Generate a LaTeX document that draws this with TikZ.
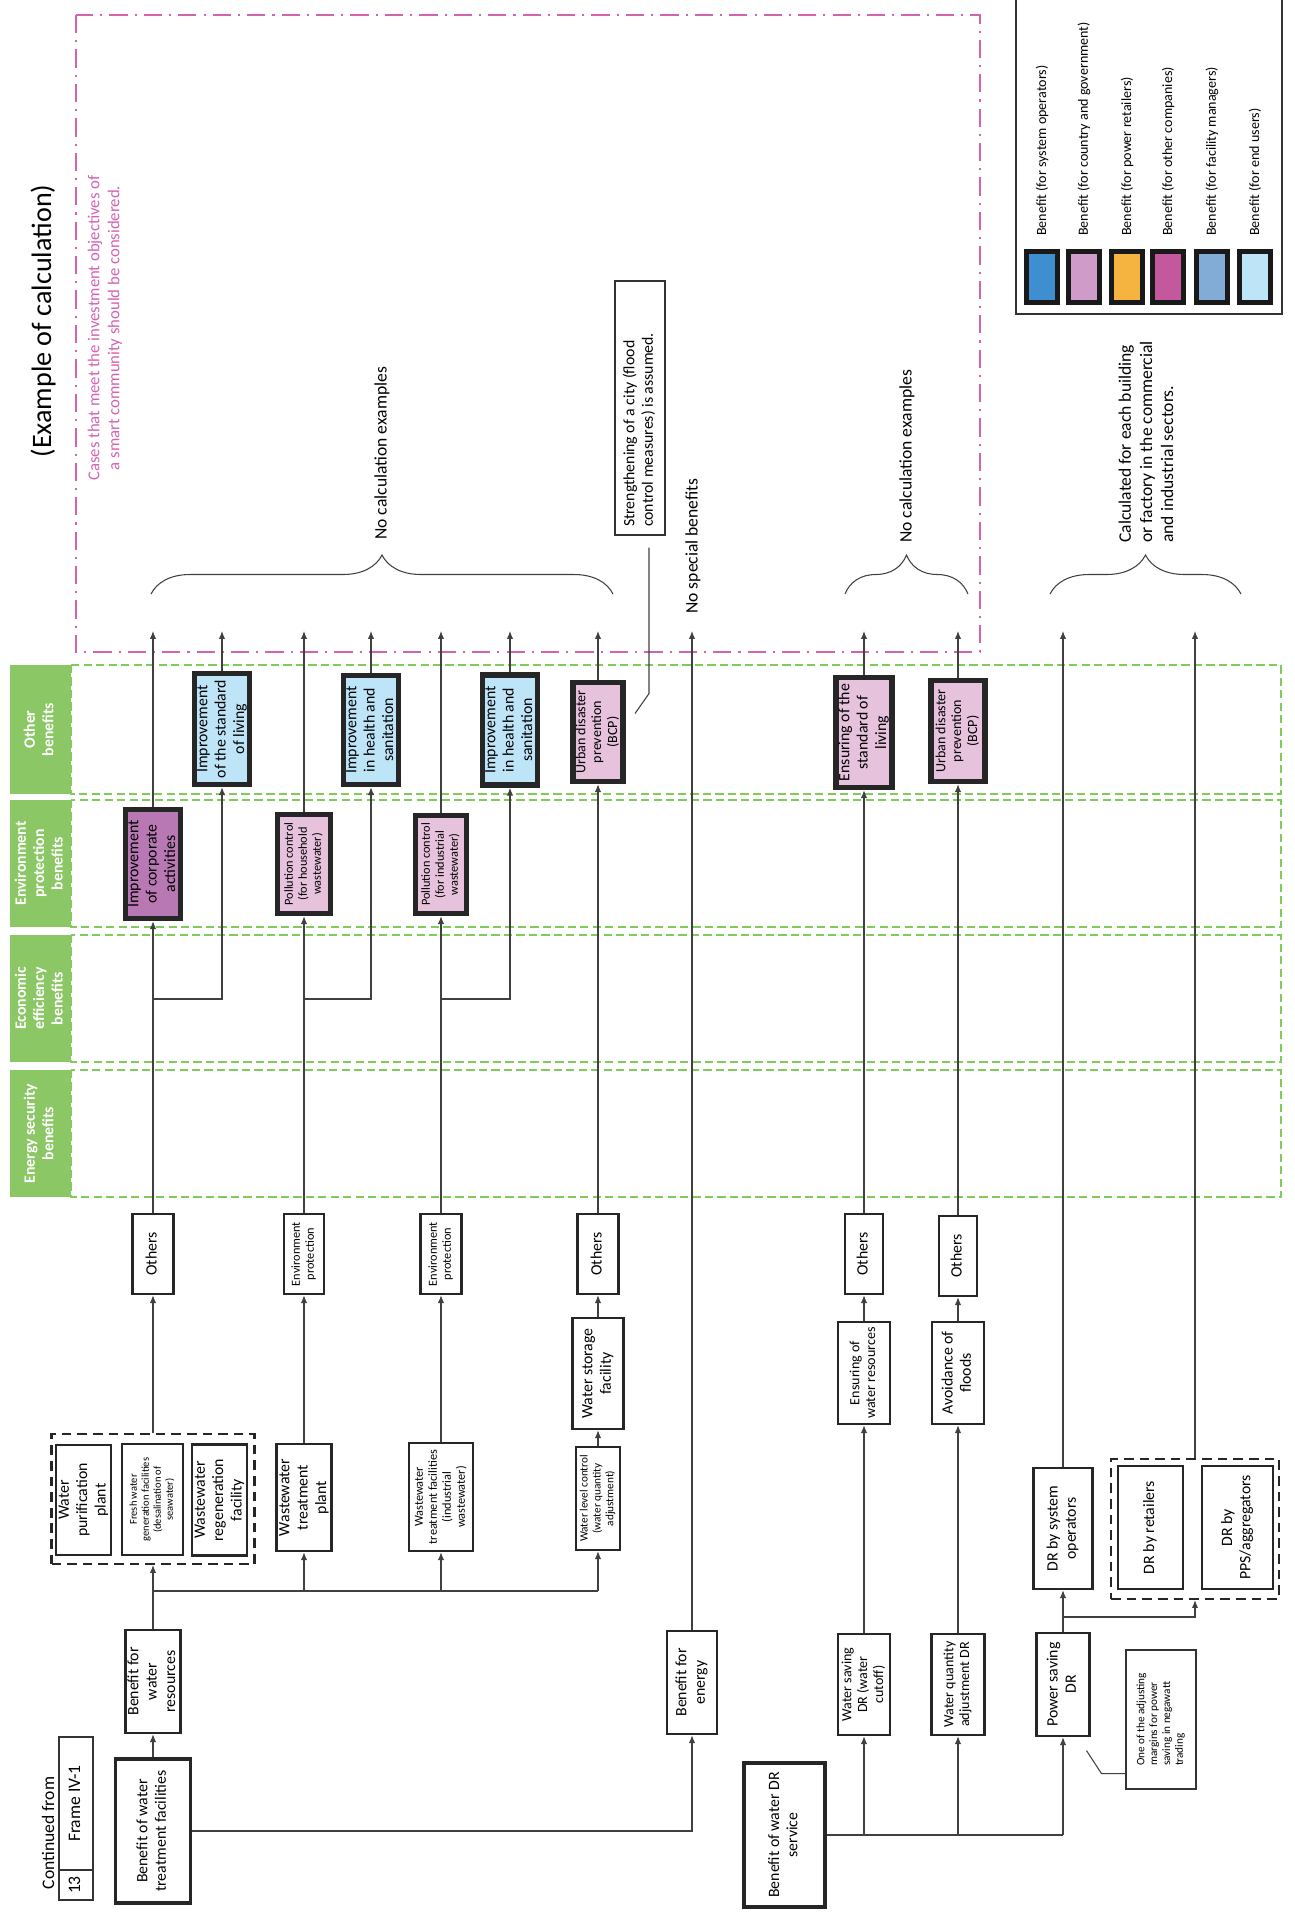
\documentclass[tikz,border=0pt]{standalone}
\usepackage{fontspec}
\setmainfont{Carlito}
\usepackage{graphicx}
\usetikzlibrary{arrows.meta,decorations.pathreplacing}

\definecolor{sysop}{HTML}{3F8ECF}
\definecolor{govt}{HTML}{CF9BC9}
\definecolor{retail}{HTML}{F5B43F}
\definecolor{othco}{HTML}{C4589C}
\definecolor{facil}{HTML}{82ABD6}
\definecolor{enduser}{HTML}{BEE4F7}
\definecolor{pinkbox}{HTML}{E6C2DC}
\definecolor{corpbox}{HTML}{B878B4}
\definecolor{rowgreen}{HTML}{8BC765}
\definecolor{dashgreen}{HTML}{7FCB5B}
\definecolor{casepink}{HTML}{D263B1}

\renewcommand\arraystretch{0.95}
\newcommand\rt[2][\small]{\rotatebox{90}{#1\begin{tabular}{@{}c@{}}#2\end{tabular}}}
\newcommand\fsa{\fontsize{6}{7.2}\selectfont}
\newcommand\fsb{\fontsize{6.4}{7.7}\selectfont}
\newcommand\fsc{\fontsize{7}{8.4}\selectfont}

\begin{document}
\begin{tikzpicture}[x=0.02cm,y=-0.02cm,
  box/.style={draw=black!85,line width=1.3pt,fill=white,inner sep=0pt,align=center},
  bbox/.style={box,line width=2.2pt},
  hbox/.style={box,line width=3pt},
  sz/.style 2 args={minimum width=(#1)*0.02cm,minimum height=(#2)*0.02cm},
  ln/.style={draw=black!75,line width=0.6pt},
  ar/.style={ln,-{Latex[length=4.5pt,width=3.6pt]}},
  grp/.style={draw=black!85,line width=1.2pt,dash pattern=on 5.5pt off 3.4pt,inner sep=0pt},
  thinbox/.style={draw=black!80,line width=0.6pt,fill=white,inner sep=0pt},
  rowband/.style={draw=dashgreen,line width=1pt,dash pattern=on 4.7pt off 2.4pt},
  rowlab/.style={fill=rowgreen,text=white,inner sep=0pt},
  casebox/.style={draw=casepink,line width=1.1pt,dash pattern=on 10.4pt off 4pt on 1.2pt off 4pt},
  brc/.style={ln,decorate,decoration={brace,amplitude=0.78cm}},
  vtext/.style={rotate=90,anchor=west,inner sep=0pt},
  swatch/.style={draw=black!90,line width=2.3pt,inner sep=0pt,sz={31}{51}}]
\useasboundingbox (0,0) rectangle (1295,1921);

% frame of the calculation examples and benefit rows
\draw[casebox] (76,15) rectangle (980,652);
\foreach \ya/\yb/\lab [count=\i] in {665/794/{Other\\benefits},800/927/{Environment\\protection\\benefits},935/1062/{Economic\\efficiency\\benefits},1070/1197/{Energy security\\benefits}}{
  \draw[rowband] (71,\ya) rectangle (1281,\yb);
  \node[rowlab,sz={61}{\yb-\ya}] (row\i) at (40.5,{(\ya+\yb)/2}) {\rt[\small\bfseries]{\lab}};
}

% legend
\draw[thinbox,fill=none] (1016,-10) rectangle (1282,314);
\foreach \x/\c/\t in {1042/sysop/system operators,1084/govt/country and government,1127/retail/power retailers,1168/othco/other companies,1212/facil/facility managers,1255/enduser/end users}{
  \node[swatch,fill=\c] (sw\x) at (\x,277) {};
  \node[vtext,font=\footnotesize] (lg\x) at (\x,236) {Benefit (for \t)};
}

\node[rotate=90,font=\fontsize{16}{19}\selectfont] (title) at (43,321) {(Example of calculation)};
\node[rotate=90,align=center,text=casepink,font=\fontsize{9.5}{11.4}\selectfont] (cases) at (105,328) {Cases that meet the investment objectives of\\a smart community should be considered.};
\node[vtext,font=\normalsize] (nce1) at (382,540) {No calculation examples};
\node[vtext,font=\normalsize] (nsb) at (693,614) {No special benefits};
\node[vtext,font=\normalsize] (nce2) at (907,543) {No calculation examples};
\node[vtext,font=\normalsize,align=left] (calc) at (1146,543) {Calculated for each building\\or factory in the commercial\\and industrial sectors.};
\draw[brc] (151,594) -- (613,594);
\draw[brc] (845,594) -- (968,594);
\draw[brc] (1050,594) -- (1241,594);
\node[thinbox,sz={50}{254}] (sbox) at (640,408) {\rotatebox{90}{\makebox[4.76cm][l]{\small\begin{tabular}{@{}l@{}}Strengthening of a city (flood\\control measures) is assumed.\end{tabular}}}};

% benefits
\node[hbox,fill=corpbox,sz={55}{109}] (ica) at (153,864) {\rt{Improvement\\of corporate\\activities}};
\node[hbox,fill=pinkbox,sz={53}{99}] (pch) at (304,864) {\rt[\fsc]{Pollution control\\(for household\\wastewater)}};
\node[hbox,fill=pinkbox,sz={51}{98}] (pci) at (441,864.5) {\rt[\fsc]{Pollution control\\(for industrial\\wastewater)}};
\node[hbox,fill=enduser,sz={52}{111}] (isl) at (222,729) {\rt{Improvement\\of the standard\\of living}};
\node[hbox,fill=enduser,sz={53}{109}] (ihs1) at (371,730) {\rt{Improvement\\in health and\\sanitation}};
\node[hbox,fill=enduser,sz={54}{110}] (ihs2) at (510,730) {\rt{Improvement\\in health and\\sanitation}};
\node[hbox,fill=pinkbox,sz={50}{99}] (udp1) at (598,732) {\rt[\footnotesize]{Urban disaster\\prevention\\(BCP)}};
\node[hbox,fill=pinkbox,sz={56}{110}] (esl) at (864,732.5) {\rt{Ensuring of the\\standard of\\living}};
\node[hbox,fill=pinkbox,sz={54}{101}] (udp2) at (958,731) {\rt[\footnotesize]{Urban disaster\\prevention\\(BCP)}};

% intermediate boxes
\node[box,sz={41}{80}] (oth1) at (153,1254) {\rt{Others}};
\node[box,sz={40}{80}] (envA) at (304,1254) {\rt[\fsc]{Environment\\protection}};
\node[box,sz={41}{80}] (envB) at (441,1254) {\rt[\fsc]{Environment\\protection}};
\node[box,sz={41}{80}] (oth2) at (598,1254) {\rt{Others}};
\node[box,sz={38}{80}] (oth3) at (864,1254) {\rt{Others}};
\node[box,sz={38}{80}] (oth4) at (958,1256) {\rt{Others}};
\node[box,sz={51}{111}] (wsf) at (598,1373.5) {\rt{Water storage\\facility}};
\node[box,sz={52}{102}] (ewr) at (864,1373) {\rt[\footnotesize]{Ensuring of\\water resources}};
\node[box,sz={52}{102}] (aof) at (958,1373) {\rt{Avoidance of\\floods}};

% facilities
\node[grp,sz={203}{130}] (grp1) at (153,1499) {};
\node[box,sz={53}{110}] (wpp) at (83.5,1500) {\rt{Water\\purification\\plant}};
\node[box,sz={61}{111}] (fwg) at (152.5,1499.5) {\rt[\fsa]{Fresh water\\generation facilities\\(desalination of\\seawater)}};
\node[box,sz={49}{111}] (wrf) at (219.5,1500) {\rt{Wastewater\\regeneration\\facility}};
\node[box,sz={53}{107}] (wtp) at (304,1497.5) {\rt{Wastewater\\treatment\\plant}};
\node[box,sz={64}{108}] (wtf) at (441,1497) {\rt[\fsc]{Wastewater\\treatment facilities\\(industrial\\wastewater)}};
\node[box,sz={44}{103}] (wlc) at (598,1498.5) {\rt[\fsb]{Water level control\\(water quantity\\adjustment)}};
\node[box,sz={59}{121}] (dso) at (1063,1528.5) {\rt{DR by system\\operators}};
\node[grp,sz={168}{140}] (grp2) at (1195,1529) {};
\node[box,sz={65}{123}] (dret) at (1150.5,1527.5) {\rt{DR by retailers}};
\node[box,sz={71}{123}] (dpps) at (1237.5,1527.5) {\rt{DR by\\PPS/aggregators}};

% sources
\node[box,sz={50}{103}] (bwr) at (153,1681.5) {\rt{Benefit for\\water\\resources}};
\node[box,sz={50}{103}] (bfe) at (692,1682.5) {\rt{Benefit for\\energy}};
\node[box,sz={52}{101}] (wsdr) at (864,1684.5) {\rt[\footnotesize]{Water saving\\DR (water\\cutoff)}};
\node[box,sz={53}{101}] (wqdr) at (958,1684.5) {\rt[\footnotesize]{Water quantity\\adjustment DR}};
\node[box,sz={53}{103}] (psdr) at (1063,1684.5) {\rt{Power saving\\DR}};
\node[thinbox,sz={70}{139}] (note) at (1161,1719.5) {\rotatebox{90}{\fsb\begin{tabular}{@{}l@{}}One of the adjusting\\margins for power\\saving in negawatt\\trading\end{tabular}}};
\node[bbox,sz={75}{144}] (bwtf) at (153,1831) {\rt{Benefit of water\\treatment facilities}};
\node[bbox,sz={81}{144}] (bwdr) at (784.5,1835) {\rt{Benefit of water DR\\service}};
\node[rotate=90,font=\normalsize] (cont) at (48,1833) {Continued from};
\node[thinbox,sz={34}{133}] (frm) at (76,1803.5) {\rt[\normalsize]{Frame IV-1}};
\node[thinbox,sz={34}{30}] (num) at (76,1885) {\rt[\normalsize]{13}};

% connectors
\coordinate (top) at (0,631);
\coordinate (busW) at (153,1591);
\coordinate (brA) at (153,999);
\coordinate (brC) at (304,999);
\coordinate (brE) at (441,999);
\coordinate (brK) at (1063,1617);
\draw[ar] (bwtf.north) -- (bwr.south);
\draw[ln] (bwr.north) -- (busW) -- (wlc.south |- busW);
\draw[ar] (busW) -- (grp1.south);
\foreach \n in {wtp,wtf,wlc} \draw[ar] (\n.south |- busW) -- (\n.south);
\draw[ar] (grp1.north) -- (oth1.south);
\draw[ar] (oth1.north) -- (ica.south);
\draw[ar] (brA) -| (isl.south);
\draw[ar] (wtp.north) -- (envA.south);
\draw[ar] (envA.north) -- (pch.south);
\draw[ar] (brC) -| (ihs1.south);
\draw[ar] (wtf.north) -- (envB.south);
\draw[ar] (envB.north) -- (pci.south);
\draw[ar] (brE) -| (ihs2.south);
\draw[ar] (wlc.north) -- (wsf.south);
\draw[ar] (wsf.north) -- (oth2.south);
\draw[ar] (oth2.north) -- (udp1.south);
\draw[ar] (bwtf.east) -| (bfe.south);
\draw[ln] (bwdr.east) -- (psdr.south |- bwdr.east);
\foreach \n in {wsdr,wqdr,psdr} \draw[ar] (\n.south |- bwdr.east) -- (\n.south);
\draw[ar] (wsdr.north) -- (ewr.south);
\draw[ar] (ewr.north) -- (oth3.south);
\draw[ar] (oth3.north) -- (esl.south);
\draw[ar] (wqdr.north) -- (aof.south);
\draw[ar] (aof.north) -- (oth4.south);
\draw[ar] (oth4.north) -- (udp2.south);
\draw[ar] (psdr.north) -- (dso.south);
\draw[ar] (brK) -| (grp2.south);
\foreach \n in {ica,isl,pch,ihs1,pci,ihs2,udp1,bfe,esl,udp2,dso,grp2} \draw[ar] (\n.north) -- (\n.north |- top);
% leaders of the notes
\draw[ln] (sbox.south) ++(9,12) -- ++(0,146) -- ++(-14,20);
\draw[ln] (note.south west) ++(0,-16) -- ++(-24,0) -- ++(-15,-23);
\end{tikzpicture}
\end{document}
